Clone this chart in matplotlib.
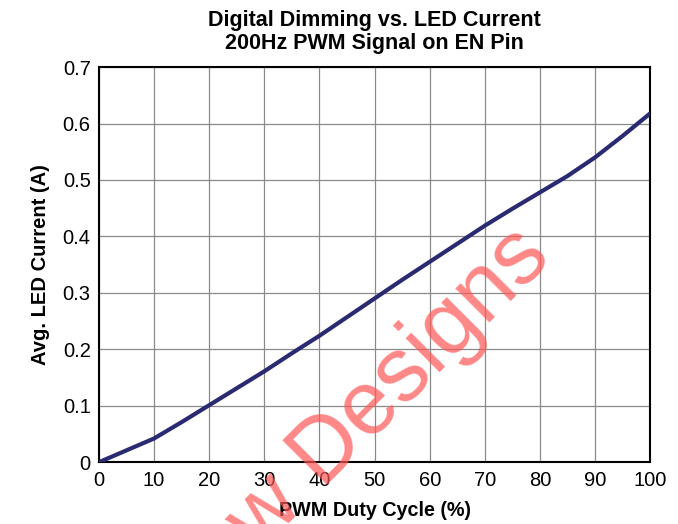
import matplotlib
matplotlib.use("Agg")
import matplotlib.pyplot as plt

plt.rcParams['font.family'] = ['Liberation Sans', 'DejaVu Sans']

# values
duty = [0, 5, 10, 15, 20, 25, 30, 35, 40, 45, 50, 55, 60, 65, 70, 75, 80, 85, 90, 95, 100]
current = [0.0, 0.021, 0.042, 0.071, 0.101, 0.131, 0.161, 0.193, 0.224, 0.257, 0.290,
           0.323, 0.355, 0.387, 0.419, 0.449, 0.478, 0.507, 0.540, 0.578, 0.618]

xticks = list(range(0, 101, 10))
yticks = [0, 0.1, 0.2, 0.3, 0.4, 0.5, 0.6, 0.7]
ylabels = ["0", "0.1", "0.2", "0.3", "0.4", "0.5", "0.6", "0.7"]

fig = plt.figure(figsize=(6.78, 5.24), dpi=100)
ax = fig.add_axes([0.146, 0.118, 0.813, 0.754])

ax.plot(duty, current, color="#2a2a72", lw=3.0, solid_capstyle="round", zorder=3)

ax.set_xlim(0, 100)
ax.set_ylim(0, 0.7)
ax.set_xticks(xticks)
ax.set_yticks(yticks)
ax.set_yticklabels(ylabels)
ax.tick_params(labelsize=14.5, length=0, pad=6)
ax.grid(True, color="#8a8a8a", lw=0.9)
for s in ax.spines.values():
    s.set_linewidth(1.5)

ax.set_xlabel("PWM Duty Cycle (%)", fontsize=14.2, fontweight="bold", labelpad=8)
ax.set_ylabel("Avg. LED Current (A)", fontsize=14.5, fontweight="bold", labelpad=9)
ax.set_title("Digital Dimming vs. LED Current\n200Hz PWM Signal on EN Pin",
             fontsize=15.5, fontweight="bold", linespacing=1.15, pad=13)

# watermark, runs off the bottom edge as in the original
fig.text(0.382, -0.057, "w Designs", color="#ff5555", alpha=0.7, fontsize=65,
         rotation=45, rotation_mode="anchor", ha="left", va="baseline", zorder=10)

fig.savefig("out.png", dpi=100)
